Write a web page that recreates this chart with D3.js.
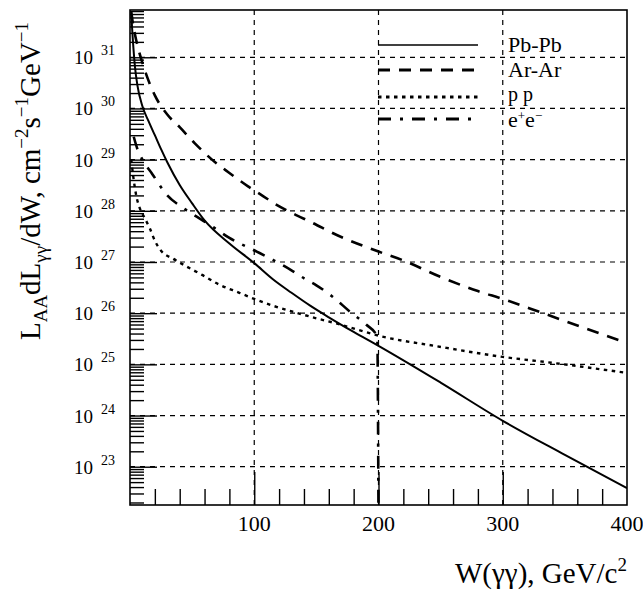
<!DOCTYPE html>
<html>
<head>
<meta charset="utf-8">
<script src="https://cdn.jsdelivr.net/npm/d3@7"></script>
<style>
  body { margin: 0; background: #fff; }
  #chart { width: 643px; height: 590px; }
  text { font-family: "Liberation Serif", "Times New Roman", serif; fill: #000; }
</style>
</head>
<body>
<div id="chart"></div>
<script>
// W(gamma gamma) in GeV/c^2, luminosity in cm^-2 s^-1 GeV^-1
var W_PB = [1, 2, 4, 6, 10, 15, 20, 25, 30, 40, 50, 60, 80, 100, 115, 130, 145, 160, 180, 200, 250, 300, 350, 400];
var L_PB = [7.1e31, 2.8e31, 6.5e30, 2.8e30, 1.1e30, 5.6e29, 3.0e29, 1.6e29, 8.9e28, 3.2e28, 1.4e28, 6.5e27, 2.3e27, 9.5e26,
            4.6e26, 2.5e26, 1.4e26, 8.3e25, 4.3e25, 2.3e25, 4.4e24, 7.9e23, 1.7e23, 3.8e22];

var W_AR = [1, 2, 4, 6, 9, 14, 20, 30, 40, 52, 66, 80, 95, 105, 118, 131, 147, 166, 200, 220, 250, 280, 300, 330, 365, 400];
var L_AR = [7.9e31, 5.2e31, 2.8e31, 1.7e31, 9.3e30, 4.0e30, 1.8e30, 7.6e29, 4.3e29, 2.1e29, 1.0e29, 5.5e28, 3.0e28,
            2.1e28, 1.3e28, 8.9e27, 5.8e27, 3.4e27, 1.6e27, 1.07e27, 5.1e26, 2.7e26, 1.9e26, 1.05e26, 5.2e25, 2.6e25];

var W_PP = [1, 3, 5, 8, 12, 16, 20, 25, 35, 45, 58, 72, 88, 100, 115, 131, 147, 166, 205, 245, 300, 340, 400];
var L_PP = [1.0e29, 4.0e28, 2.0e28, 1.1e28, 7.1e27, 4.5e27, 2.6e27, 1.66e27, 1.15e27, 8.3e26, 5.6e26, 3.6e26, 2.5e26,
            1.9e26, 1.4e26, 1.07e26, 8.3e25, 6.3e25, 3.4e25, 2.3e25, 1.4e25, 1.07e25, 6.8e24];

var W_EE = [3, 6, 10, 18, 30, 42, 54, 67, 80, 102, 115, 129, 142, 150, 163, 177, 190, 199, 200];
var L_EE = [2.8e29, 1.6e29, 1.0e29, 5.2e28, 2.0e28, 1.17e28, 7.6e27, 4.8e27, 2.95e27, 1.6e27, 1.1e27, 7.1e26, 4.5e26,
            3.5e26, 2.1e26, 1.07e26, 6.0e25, 3.5e25, 1e22];

var SERIES_NAMES = ["Pb-Pb", "Ar-Ar", "p p", "e+e-"];
var X_TICKS = [100, 200, 300, 400];
var Y_EXPONENTS = [23, 24, 25, 26, 27, 28, 29, 30, 31];

function lumiPlot({ id } = {}) {
    var margin = { left: 130, right: 16, top: 10, bottom: 85 };
    var width = 643, height = 590;
    var x0 = margin.left, x1 = width - margin.right;
    var y0 = height - margin.bottom, y1 = margin.top;

    var x_scale = d3.scaleLinear().domain([0, 400]).range([x0, x1]);
    var y_scale = d3.scaleLog().domain([1.786e22, 8.39e31]).range([y0, y1]);

    var svg = d3.select("#" + id)
        .append("svg")
        .attr("width", width)
        .attr("height", height);

    svg.append("defs").append("clipPath")
        .attr("id", "plotclip")
        .append("rect")
        .attr("x", x0).attr("y", y1)
        .attr("width", x1 - x0).attr("height", y0 - y1);

    // grid
    var grid = svg.append("g")
        .attr("stroke", "#000")
        .attr("stroke-width", 1.2)
        .attr("stroke-dasharray", "5,5");
    grid.selectAll("line.gy")
        .data(Y_EXPONENTS)
        .enter()
        .append("line")
        .attr("x1", x0).attr("x2", x1)
        .attr("y1", d => y_scale(Math.pow(10, d)))
        .attr("y2", d => y_scale(Math.pow(10, d)));
    grid.selectAll("line.gx")
        .data([100, 200, 300])
        .enter()
        .append("line")
        .attr("y1", y1).attr("y2", y0)
        .attr("x1", d => x_scale(d))
        .attr("x2", d => x_scale(d));

    // left axis ticks (log, major + minor)
    var minor = [];
    for (var e = 22; e <= 31; e++) {
        for (var k = 2; k <= 9; k++) {
            var v = k * Math.pow(10, e);
            if (v > y_scale.domain()[0] && v < y_scale.domain()[1]) minor.push(v);
        }
    }
    var y_axis_minor = d3.axisRight(y_scale)
        .tickValues(minor)
        .tickSize(14)
        .tickFormat("");
    var y_axis_major = d3.axisRight(y_scale)
        .tickValues(Y_EXPONENTS.map(d => Math.pow(10, d)))
        .tickSize(27)
        .tickFormat("");
    [y_axis_minor, y_axis_major].forEach(function (ax) {
        var g = svg.append("g")
            .attr("transform", "translate(" + x0 + ",0)")
            .call(ax);
        g.select(".domain").remove();
        g.selectAll("line").attr("stroke", "#000").attr("stroke-width", 1.4);
    });

    // bottom axis ticks
    var x_axis_minor = d3.axisTop(x_scale)
        .tickValues(d3.range(20, 400, 20).filter(d => d % 100 !== 0))
        .tickSize(16)
        .tickFormat("");
    var x_axis_major = d3.axisTop(x_scale)
        .tickValues([100, 200, 300])
        .tickSize(33)
        .tickFormat("");
    [x_axis_minor, x_axis_major].forEach(function (ax) {
        var g = svg.append("g")
            .attr("transform", "translate(0," + y0 + ")")
            .call(ax);
        g.select(".domain").remove();
        g.selectAll("line").attr("stroke", "#000").attr("stroke-width", 1.4);
    });

    // curves
    var line = d3.line()
        .x(d => x_scale(d[0]))
        .y(d => y_scale(d[1]))
        .curve(d3.curveMonotoneX);

    var styles = [
        { w: W_PB, l: L_PB, width: 2, dash: null },
        { w: W_AR, l: L_AR, width: 2.6, dash: "12,9" },
        { w: W_PP, l: L_PP, width: 2.4, dash: "3.5,4.5" },
        { w: W_EE, l: L_EE, width: 2.6, dash: "13,9,3,9" }
    ];

    var curves = svg.append("g").attr("clip-path", "url(#plotclip)");
    styles.forEach(function (s) {
        curves.append("path")
            .datum(d3.zip(s.w, s.l))
            .attr("fill", "none")
            .attr("stroke", "#000")
            .attr("stroke-width", s.width)
            .attr("stroke-dasharray", s.dash)
            .attr("d", line);
    });

    // frame
    svg.append("rect")
        .attr("x", x0).attr("y", y1)
        .attr("width", x1 - x0).attr("height", y0 - y1)
        .attr("fill", "none")
        .attr("stroke", "#000")
        .attr("stroke-width", 1.6);

    // tick labels
    svg.selectAll("text.xt")
        .data(X_TICKS)
        .enter()
        .append("text")
        .attr("x", d => x_scale(d))
        .attr("y", y0 + 26)
        .attr("text-anchor", "middle")
        .attr("font-size", 22)
        .text(d => d);

    var ylab = svg.selectAll("text.yt")
        .data(Y_EXPONENTS)
        .enter()
        .append("text")
        .attr("x", 74)
        .attr("y", d => y_scale(Math.pow(10, d)) + 7)
        .attr("font-size", 19);
    ylab.append("tspan").text("10");
    ylab.append("tspan")
        .attr("dx", 8)
        .attr("dy", -9)
        .attr("font-size", 14)
        .text(d => d);

    // axis titles
    var xt = svg.append("text")
        .attr("x", x1)
        .attr("y", 583)
        .attr("text-anchor", "end")
        .attr("font-size", 29);
    xt.append("tspan").text("W(γγ), GeV/c");
    xt.append("tspan").attr("dy", -12).attr("font-size", 19).text("2");

    var yt = svg.append("text")
        .attr("transform", "translate(40,181) rotate(-90)")
        .attr("text-anchor", "middle")
        .attr("font-size", 29);
    yt.append("tspan").text("L");
    yt.append("tspan").attr("dy", 7).attr("font-size", 19).text("AA");
    yt.append("tspan").attr("dy", -7).text("dL");
    yt.append("tspan").attr("dy", 7).attr("font-size", 19).text("γγ");
    yt.append("tspan").attr("dy", -7).text("/dW, cm");
    yt.append("tspan").attr("dy", -12).attr("font-size", 19).text("−2");
    yt.append("tspan").attr("dy", 12).text("s");
    yt.append("tspan").attr("dy", -12).attr("font-size", 19).text("−1");
    yt.append("tspan").attr("dy", 12).text("GeV");
    yt.append("tspan").attr("dy", -12).attr("font-size", 19).text("−1");

    // legend
    var legend = svg.append("g");
    var rowY = [45, 70, 97, 119];
    var labelY = [52, 77, 101, 127];
    SERIES_NAMES.forEach(function (name, i) {
        legend.append("line")
            .attr("x1", 378).attr("x2", 478)
            .attr("y1", rowY[i]).attr("y2", rowY[i])
            .attr("stroke", "#000")
            .attr("stroke-width", i === 0 ? 1.4 : styles[i].width + 0.6)
            .attr("stroke-dasharray", styles[i].dash);
        var t = legend.append("text")
            .attr("x", 508)
            .attr("y", labelY[i])
            .attr("font-size", i === 2 ? 20 : 22);
        if (name === "e+e-") {
            t.append("tspan").text("e");
            t.append("tspan").attr("dy", -7).attr("font-size", 13).text("+");
            t.append("tspan").attr("dy", 7).text("e");
            t.append("tspan").attr("dy", -7).attr("font-size", 13).text("−");
        } else {
            t.text(name);
        }
    });

    return svg;
}

lumiPlot({ id: "chart" });
</script>
</body>
</html>
